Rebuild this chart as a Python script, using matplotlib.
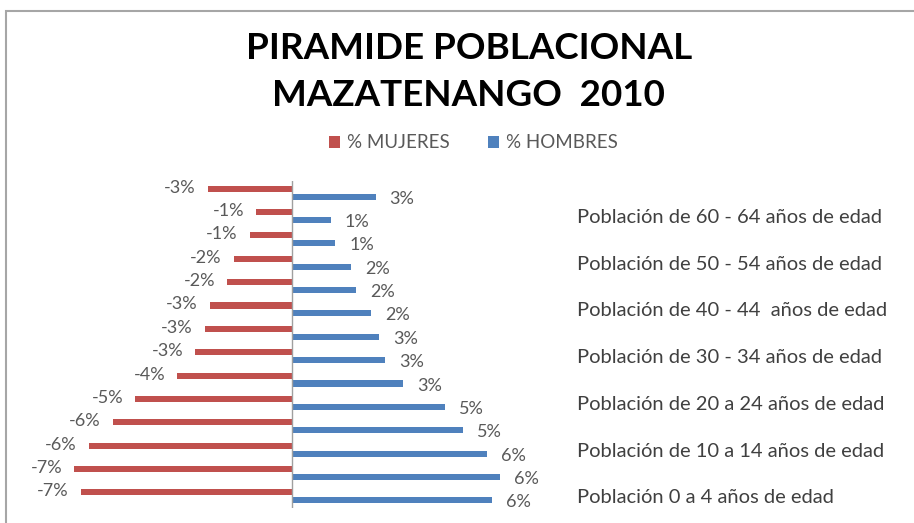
import numpy as np
import matplotlib
matplotlib.use("Agg")
import matplotlib.pyplot as plt
from matplotlib.patches import Rectangle

# Grupos de edad, de abajo (0-4) hacia arriba (65+)
grupos = ["Población 0 a 4 años de edad", "Población de 5 a 9 años de edad",
          "Población de 10 a 14 años de edad", "Población de 15 a 19 años de edad",
          "Población de 20 a 24 años de edad", "Población de 25 a 29 años de edad",
          "Población de 30 - 34 años de edad", "Población de 35 - 39 años de edad",
          "Población de 40 - 44  años de edad", "Población de 45 - 49 años de edad",
          "Población de 50 - 54 años de edad", "Población de 55 - 59 años de edad",
          "Población de 60 - 64 años de edad", "Población de 65 años y más"]
mujeres = [-6.55, -6.75, -6.3, -5.55, -4.85, -3.55, -3.0, -2.7, -2.55, -2.0, -1.8, -1.3, -1.1, -2.6]
hombres = [6.2, 6.45, 6.05, 5.3, 4.75, 3.45, 2.9, 2.7, 2.45, 2.0, 1.85, 1.35, 1.2, 2.6]

rojo = "#C0504D"
azul = "#4F81BD"
gris = "#595959"
plt.rcParams['font.family'] = ["Lato", "DejaVu Sans"]

fig = plt.figure(figsize=(9.14, 5.23), dpi=100)
W, H = 914, 523

# marco del grafico
fig.patches.append(Rectangle((6 / W, -0.1), 2, 1.1 - 11 / H, transform=fig.transFigure,
                             fill=False, edgecolor="#A6A6A6", linewidth=1.5))

ax = fig.add_axes([66 / W, 1 - 508 / H, 500 / W, 327 / H])
y = np.arange(len(grupos))
h = 0.26
b1 = ax.barh(y + 0.17, mujeres, height=h, color=rojo, label="% MUJERES")
b2 = ax.barh(y - 0.17, hombres, height=h, color=azul, label="% HOMBRES")

for yi, v in zip(y, mujeres):
    ax.annotate("{:.0f}%".format(v), (v, yi + 0.17), xytext=(-12, 1), textcoords="offset pixels",
                ha="right", va="center", fontsize=13, color=gris)
for yi, v in zip(y, hombres):
    ax.annotate("{:.0f}%".format(v), (v, yi - 0.17), xytext=(14, -2), textcoords="offset pixels",
                ha="left", va="center", fontsize=13, color=gris)

ax.set_xlim(-7, 8.5)
ax.set_ylim(-0.5, len(grupos) - 0.5)
ax.axvline(0, color="#A0A0A0", linewidth=1)
for s in ax.spines.values():
    s.set_visible(False)
ax.set_xticks([])
ax.yaxis.tick_right()
ax.set_yticks(y[::2])
ax.set_yticklabels(grupos[::2], fontsize=14.5, color="#404040")
ax.tick_params(axis="y", length=0, pad=8)

fig.text(0.513, 0.862, "PIRAMIDE POBLACIONAL\nMAZATENANGO  2010", ha="center", va="center",
         fontsize=26.5, fontweight="bold", linespacing=1.5)
fig.legend(handles=[b1, b2], ncol=2, loc="center", bbox_to_anchor=(0.518, 0.727), frameon=False,
           handlelength=0.6, handleheight=0.6, handletextpad=0.4, columnspacing=2.0,
           fontsize=13.5, labelcolor=gris)

fig.savefig("out.png", dpi=100)
